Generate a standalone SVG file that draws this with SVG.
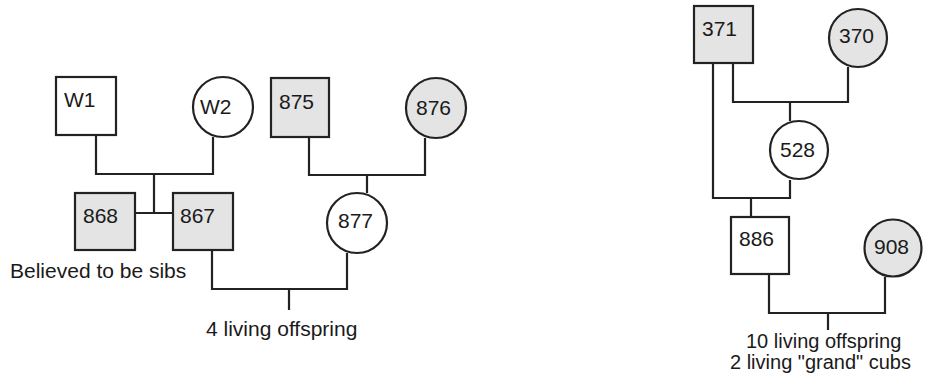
<svg xmlns="http://www.w3.org/2000/svg" width="927" height="377" viewBox="0 0 927 377">
<style>
.n{fill:#fff;stroke:#222;stroke-width:2.2}
.s{fill:#e4e4e4;stroke:#222;stroke-width:2.2}
.l{fill:none;stroke:#222;stroke-width:2.2}
text{font-family:"Liberation Sans",Arial,sans-serif;font-size:21px;fill:#1a1a1a}
.c{font-size:20px}
</style>
<rect width="927" height="377" fill="#fff"/>
<g id="connectors">
<path class="l" d="M96 135V174H213V137"/>
<path class="l" d="M154 174V213M135 213H173"/>
<path class="l" d="M309 137V175H425V138"/>
<path class="l" d="M367 175V193"/>
<path class="l" d="M212 250V289H347V253"/>
<path class="l" d="M289 289V310"/>
<path class="l" d="M733 63V102H848V67"/>
<path class="l" d="M790 102V121"/>
<path class="l" d="M713 63V198H790V180"/>
<path class="l" d="M751 198V217"/>
<path class="l" d="M769 274V313H885V277"/>
<path class="l" d="M828 313V330"/>
</g>
<g id="W1"><rect class="n" x="56" y="77" width="60" height="58"/><text x="64" y="107">W1</text></g>
<g id="W2"><circle class="n" cx="223" cy="107" r="30"/><text x="200" y="114">W2</text></g>
<g id="n868"><rect class="s" x="75" y="193" width="60" height="57"/><text x="83" y="223">868</text></g>
<g id="n867"><rect class="s" x="173" y="193" width="60" height="57"/><text x="180" y="223">867</text></g>
<g id="n875"><rect class="s" x="271" y="78" width="58" height="59"/><text x="279" y="109">875</text></g>
<g id="n876"><circle class="s" cx="436" cy="108" r="30"/><text x="416" y="115">876</text></g>
<g id="n877"><circle class="n" cx="357" cy="223" r="30"/><text x="338" y="228">877</text></g>
<g id="n371"><rect class="s" x="694" y="6" width="59" height="57"/><text x="702" y="36">371</text></g>
<g id="n370"><circle class="s" cx="858" cy="38" r="29"/><text x="839" y="43">370</text></g>
<g id="n528"><circle class="n" cx="799" cy="150" r="29"/><text x="780" y="157">528</text></g>
<g id="n886"><rect class="n" x="731" y="217" width="58" height="57"/><text x="739" y="246">886</text></g>
<g id="n908"><circle class="s" cx="893" cy="248" r="28.5"/><text x="874" y="254">908</text></g>
<g id="labels">
<text x="10" y="278">Believed to be sibs</text>
<text x="206" y="336">4 living offspring</text>
<text class="c" x="746" y="348">10 living offspring</text>
<text class="c" x="730" y="369">2 living "grand" cubs</text>
</g>
</svg>
